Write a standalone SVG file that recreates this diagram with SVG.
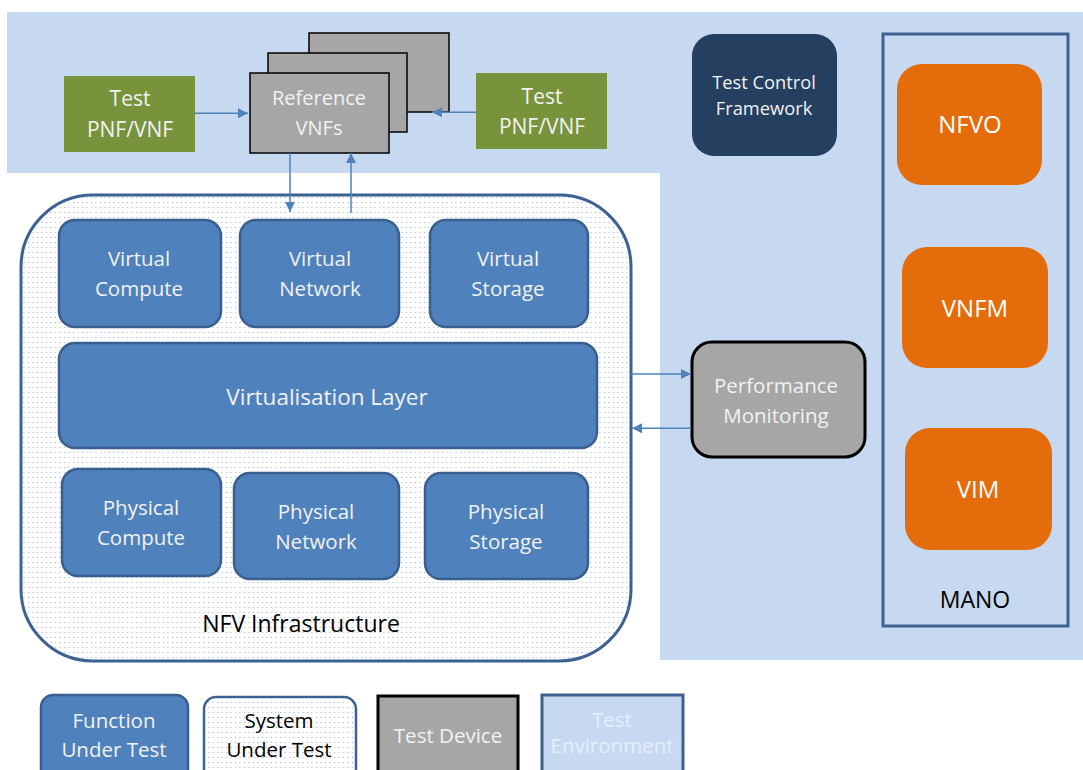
<svg xmlns="http://www.w3.org/2000/svg" width="1083" height="770" viewBox="0 0 1083 770">
<defs>
<pattern id="dots" width="4.5" height="5" patternUnits="userSpaceOnUse">
<rect width="4.5" height="5" fill="#ffffff"/>
<rect x="1" y="2" width="1" height="1" fill="#8eacd6"/>
</pattern>
<marker id="ah" viewBox="0 0 10 10" refX="10" refY="5" markerWidth="10" markerHeight="10" markerUnits="userSpaceOnUse" orient="auto">
<path d="M0,0 L10,5 L0,10 z" fill="#4f81bd"/>
</marker>
<style>
text{font-family:"Open Sans","Liberation Sans",sans-serif;text-anchor:middle;}
.lt{fill:#f2f2f2;font-size:20.5px;}
.fut{fill:#4f81bd;stroke:#3a5e8e;stroke-width:2.5;}
.gray{fill:#a6a6a6;stroke:#000;stroke-width:1.5;}
.green{fill:#77933c;}
.orange{fill:#e46c0a;}
.conn{stroke:#4f81bd;stroke-width:1.5;fill:none;marker-end:url(#ah);}
.dk{fill:#000;}
</style>
</defs>
<g id="test-environment">
<path d="M7,12 H1083 V660 H660 V173 H7 Z" fill="#c6d9f1"/>
</g>
<g id="nfvi">
<rect x="21" y="195" width="610" height="466" rx="72" fill="url(#dots)" stroke="#3d6292" stroke-width="3"/>
<text class="dk" x="301" y="632" style="font-size:23px">NFV Infrastructure</text>
</g>
<g id="test-pnf-left">
<rect class="green" x="64" y="76" width="131" height="76"/>
<text class="lt" x="130" y="106" style="font-size:21px">Test</text>
<text class="lt" x="130" y="137" style="font-size:21px">PNF/VNF</text>
</g>
<g id="test-pnf-right">
<rect class="green" x="476" y="73" width="131" height="76"/>
<text class="lt" x="542" y="104" style="font-size:21px">Test</text>
<text class="lt" x="542" y="134" style="font-size:21px">PNF/VNF</text>
</g>
<g id="reference-vnfs">
<rect class="gray" x="309" y="33" width="140" height="79"/>
<rect class="gray" x="268" y="53" width="139" height="79"/>
<rect class="gray" x="250" y="73" width="139" height="80"/>
<text class="lt" x="319" y="105" style="font-size:20px">Reference</text>
<text class="lt" x="319" y="135" style="font-size:20px">VNFs</text>
</g>
<g id="test-control-framework">
<rect x="692" y="34" width="145" height="122" rx="22" fill="#243f60"/>
<text class="lt" x="764" y="89" style="font-size:18.3px">Test Control</text>
<text class="lt" x="764" y="115" style="font-size:18.3px">Framework</text>
</g>
<g id="mano">
<rect x="883" y="34" width="185" height="592" fill="none" stroke="#3d6292" stroke-width="3"/>
<text class="dk" x="975" y="608" style="font-size:23px">MANO</text>
</g>
<g id="nfvo">
<rect class="orange" x="897" y="64" width="145" height="121" rx="25"/>
<text class="lt" x="970" y="133" style="font-size:24px;fill:#fff">NFVO</text>
</g>
<g id="vnfm">
<rect class="orange" x="902" y="247" width="146" height="121" rx="25"/>
<text class="lt" x="975" y="317" style="font-size:24px;fill:#fff">VNFM</text>
</g>
<g id="vim">
<rect class="orange" x="905" y="428" width="147" height="122" rx="25"/>
<text class="lt" x="978" y="498" style="font-size:24px;fill:#fff">VIM</text>
</g>
<g id="virtual-compute">
<rect class="fut" x="59" y="220" width="162" height="107" rx="16"/>
<text class="lt" x="139" y="266">Virtual</text>
<text class="lt" x="139" y="296">Compute</text>
</g>
<g id="virtual-network">
<rect class="fut" x="240" y="220" width="159" height="107" rx="16"/>
<text class="lt" x="320" y="266">Virtual</text>
<text class="lt" x="320" y="296">Network</text>
</g>
<g id="virtual-storage">
<rect class="fut" x="430" y="220" width="158" height="107" rx="16"/>
<text class="lt" x="508" y="266">Virtual</text>
<text class="lt" x="508" y="296">Storage</text>
</g>
<g id="virtualisation-layer">
<rect class="fut" x="59" y="343" width="538" height="105" rx="16"/>
<text class="lt" x="327" y="405" style="font-size:22.5px">Virtualisation Layer</text>
</g>
<g id="physical-compute">
<rect class="fut" x="62" y="469" width="159" height="107" rx="16"/>
<text class="lt" x="141" y="515">Physical</text>
<text class="lt" x="141" y="545">Compute</text>
</g>
<g id="physical-network">
<rect class="fut" x="234" y="473" width="165" height="106" rx="16"/>
<text class="lt" x="316" y="519">Physical</text>
<text class="lt" x="316" y="549">Network</text>
</g>
<g id="physical-storage">
<rect class="fut" x="425" y="473" width="163" height="106" rx="16"/>
<text class="lt" x="506" y="519">Physical</text>
<text class="lt" x="506" y="549">Storage</text>
</g>
<g id="performance-monitoring">
<rect x="692" y="342" width="173" height="115" rx="20" fill="#a6a6a6" stroke="#000" stroke-width="3"/>
<text class="lt" x="776" y="393">Performance</text>
<text class="lt" x="776" y="423">Monitoring</text>
</g>
<g id="connectors">
<line class="conn" x1="195" y1="113.3" x2="248" y2="113.3"/>
<line class="conn" x1="476" y1="112.3" x2="432" y2="112.3"/>
<line class="conn" x1="290" y1="153" x2="290" y2="212"/>
<line class="conn" x1="351" y1="213" x2="351" y2="153"/>
<line class="conn" x1="631" y1="374" x2="691" y2="374"/>
<line class="conn" x1="691" y1="428.3" x2="632" y2="428.3"/>
</g>
<g id="legend-fut">
<rect class="fut" x="41" y="695" width="147" height="90" rx="12"/>
<text class="lt" x="114" y="728">Function</text>
<text class="lt" x="114" y="757">Under Test</text>
</g>
<g id="legend-sut">
<rect x="204" y="697" width="152" height="90" rx="12" fill="url(#dots)" stroke="#3d6292" stroke-width="2.5"/>
<text class="dk" x="279" y="728" style="font-size:20.5px">System</text>
<text class="dk" x="279" y="757" style="font-size:20.5px">Under Test</text>
</g>
<g id="legend-test-device">
<rect x="378" y="696" width="140" height="90" fill="#a6a6a6" stroke="#000" stroke-width="3"/>
<text class="lt" x="448" y="743">Test Device</text>
</g>
<g id="legend-test-env">
<rect x="542" y="695" width="141" height="90" fill="#c6d9f1" stroke="#3d6292" stroke-width="3"/>
<text class="lt" x="612" y="727" style="fill:#e6eef9">Test</text>
<text class="lt" x="612" y="753" style="fill:#e6eef9">Environment</text>
</g>
</svg>
